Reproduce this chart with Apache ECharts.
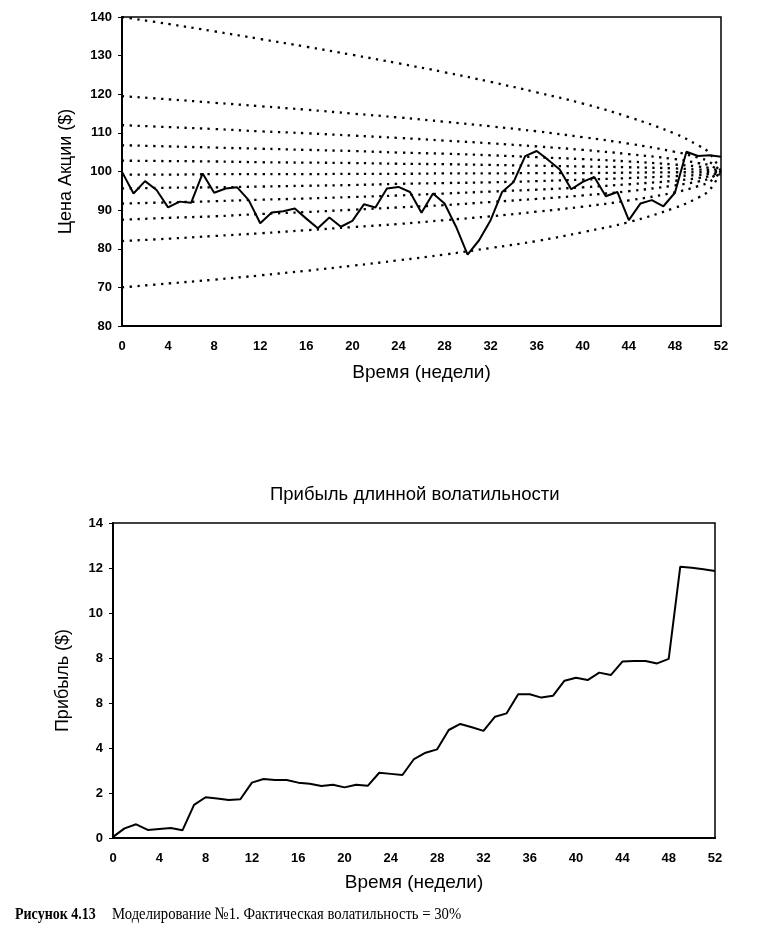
<!DOCTYPE html>
<html>
<head>
<meta charset="utf-8">
<script src="https://cdn.jsdelivr.net/npm/echarts@6/dist/echarts.min.js"></script>
<style>
  html, body { margin: 0; padding: 0; background: #fff; }
  #chart { width: 769px; height: 948px; }
</style>
</head>
<body>
<div id="chart"></div>
<script>
// ---------- DATA ----------
const weeks = [0,1,2,3,4,5,6,7,8,9,10,11,12,13,14,15,16,17,18,19,20,21,22,23,24,25,26,
  27,28,29,30,31,32,33,34,35,36,37,38,39,40,41,42,43,44,45,46,47,48,49,50,51,52];

const stockPrice = [99.9,94.3,97.5,95.2,90.7,92.2,91.9,99.5,94.5,95.6,95.9,92.6,86.6,89.4,89.7,90.4,87.8,
  85.3,88.1,85.7,87.2,91.5,90.7,95.6,96.0,94.7,89.3,94.3,91.7,85.7,78.5,82.2,87.4,94.7,97.3,104.0,
  105.3,103.0,100.5,95.4,97.3,98.6,93.6,94.7,87.4,91.7,92.6,91.0,94.5,105.1,104.0,104.2,103.8];

const profit = [0.05,0.43,0.61,0.36,0.40,0.44,0.34,1.47,1.81,1.76,1.69,1.72,2.46,2.62,2.58,2.58,2.46,
  2.41,2.31,2.37,2.25,2.37,2.32,2.90,2.85,2.80,3.51,3.79,3.94,4.80,5.07,4.92,4.76,5.39,5.54,6.39,
  6.39,6.24,6.32,6.99,7.12,7.02,7.35,7.24,7.84,7.87,7.87,7.76,7.96,12.06,12.01,11.94,11.87];

// dotted reference curves (read at these weeks)
const curveWeeks = [0,4,8,12,16,20,24,28,32,36,40,44,48,50,51,52];
const curve1  = [140.0,138.2,136.3,134.3,132.3,130.2,128.0,125.7,123.2,120.5,117.6,114.1,109.8,106.8,104.8,100.0];
const curve2  = [119.5,118.7,117.8,116.9,116.0,115.0,114.0,112.9,111.7,110.4,108.9,107.2,105.1,103.6,102.5,100.0];
const curve3  = [112.0,111.5,111.0,110.4,109.9,109.3,108.7,108.0,107.3,106.5,105.6,104.5,103.2,102.2,101.6,100.0];
const curve4  = [106.8,106.5,106.2,105.9,105.6,105.3,104.9,104.6,104.2,103.7,103.2,102.6,101.8,101.3,100.9,100.0];
const curve5  = [102.8,102.7,102.6,102.4,102.3,102.2,102.0,101.9,101.7,101.5,101.3,101.1,100.8,100.5,100.4,100.0];
const curve6  = [99.2,99.2,99.3,99.3,99.3,99.4,99.4,99.5,99.5,99.6,99.6,99.7,99.8,99.8,99.9,100.0];
const curve7  = [95.6,95.8,95.9,96.1,96.3,96.5,96.8,97.0,97.2,97.5,97.9,98.3,98.8,99.1,99.4,100.0];
const curve8  = [91.7,92.0,92.3,92.7,93.0,93.4,93.8,94.3,94.8,95.3,95.9,96.7,97.6,98.3,98.8,100.0];
const curve9  = [87.5,88.0,88.4,89.0,89.5,90.1,90.7,91.3,92.1,92.9,93.8,94.9,96.4,97.4,98.2,100.0];
const curve10 = [82.0,82.6,83.3,84.0,84.8,85.6,86.4,87.4,88.4,89.6,90.9,92.5,94.6,96.2,97.3,100.0];
const curve11 = [70.0,71.0,72.0,73.1,74.3,75.6,77.0,78.5,80.2,82.0,84.3,86.9,90.6,93.2,95.2,100.0];
const curves = [curve1,curve2,curve3,curve4,curve5,curve6,curve7,curve8,curve9,curve10,curve11];

// tick labels as printed
const topYTickValues = [60,70,80,90,100,110,120,130,140];
const topYTickLabels = ['80','70','80','90','100','110','120','130','140'];
const botYTickValues = [0,2,4,6,8,10,12,14];
const botYTickLabels = ['0','2','4','8','8','10','12','14'];

const topYName = 'Цена Акции ($)';
const botYName = 'Прибыль ($)';
const xName = 'Время (недели)';
const botTitle = 'Прибыль длинной волатильности';
const captionBold = 'Рисунок 4.13';
const captionText = 'Моделирование №1. Фактическая волатильность = 30%';

// ---------- CHART ----------
const pairs = (xs, ys) => xs.map((x, i) => [x, ys[i]]);
const sans = 'Liberation Sans, Arial, sans-serif';
const serif = 'Liberation Serif, Times New Roman, serif';

const tickLabelStyle = { color: '#000', fontFamily: sans, fontWeight: 'bold', fontSize: 13 };
const yNameStyle = { color: '#000', fontFamily: sans, fontSize: 18 };
const xNameStyle = { color: '#000', fontFamily: sans, fontSize: 19 };

function xAxisCfg(gridIndex, gap, margin) {
  return {
    gridIndex, type: 'value', min: 0, max: 52, interval: 4,
    name: xName, nameLocation: 'middle', nameGap: gap, nameTextStyle: xNameStyle,
    axisLine: { show: true, lineStyle: { color: '#000', width: 2 } },
    axisTick: { show: false },
    axisLabel: Object.assign({ margin: margin }, tickLabelStyle),
    splitLine: { show: false }
  };
}

const dottedSeries = curves.map((c, i) => ({
  type: 'line', xAxisIndex: 0, yAxisIndex: 0,
  data: pairs(curveWeeks, c), smooth: 0.4, symbol: 'none', silent: true,
  lineStyle: { color: '#000', width: 2.3, type: [2.3, 5.5] },
  z: 2
}));

const option = {
  animation: false,
  backgroundColor: '#fff',
  title: {
    text: botTitle, left: 265, top: 480,
    textStyle: { color: '#000', fontFamily: sans, fontSize: 18.5, fontWeight: 'normal' }
  },
  grid: [
    { left: 122, right: 48, top: 17, height: 309, show: true, borderColor: '#000', borderWidth: 1.5 },
    { left: 113, right: 54, top: 523, height: 315, show: true, borderColor: '#000', borderWidth: 1.5 }
  ],
  xAxis: [xAxisCfg(0, 37, 14), xAxisCfg(1, 35, 14)],
  yAxis: [
    {
      gridIndex: 0, type: 'value', min: 60, max: 140, interval: 10,
      name: topYName, nameLocation: 'middle', nameGap: 47, nameTextStyle: yNameStyle,
      axisLine: { show: true, lineStyle: { color: '#000', width: 2 } },
      axisTick: { show: true, length: 4, lineStyle: { color: '#000', width: 1 } },
      axisLabel: Object.assign({ margin: 10,
        formatter: v => topYTickLabels[topYTickValues.indexOf(v)] }, tickLabelStyle),
      splitLine: { show: false }
    },
    {
      gridIndex: 1, type: 'value', min: 0, max: 14, interval: 2,
      name: botYName, nameLocation: 'middle', nameGap: 41, nameTextStyle: yNameStyle,
      axisLine: { show: true, lineStyle: { color: '#000', width: 2 } },
      axisTick: { show: true, length: 4, lineStyle: { color: '#000', width: 1 } },
      axisLabel: Object.assign({ margin: 10,
        formatter: v => botYTickLabels[botYTickValues.indexOf(v)] }, tickLabelStyle),
      splitLine: { show: false }
    }
  ],
  series: dottedSeries.concat([
    {
      type: 'line', xAxisIndex: 0, yAxisIndex: 0, data: pairs(weeks, stockPrice),
      symbol: 'none', lineStyle: { color: '#000', width: 2 }, z: 5
    },
    {
      type: 'line', xAxisIndex: 1, yAxisIndex: 1, data: pairs(weeks, profit),
      symbol: 'none', lineStyle: { color: '#000', width: 2 }, z: 5
    }
  ]),
  graphic: [
    {
      type: 'text', x: 15, y: 905, scaleX: 0.8,
      style: { text: captionBold, fill: '#000', font: 'bold 17.5px ' + serif, verticalAlign: 'top' }
    },
    {
      type: 'text', x: 112, y: 905, scaleX: 0.84,
      style: { text: captionText, fill: '#000', font: '17.5px ' + serif, verticalAlign: 'top' }
    }
  ]
};

const chart = echarts.init(document.getElementById('chart'), null, { renderer: 'canvas' });
chart.setOption(option);
</script>
</body>
</html>
